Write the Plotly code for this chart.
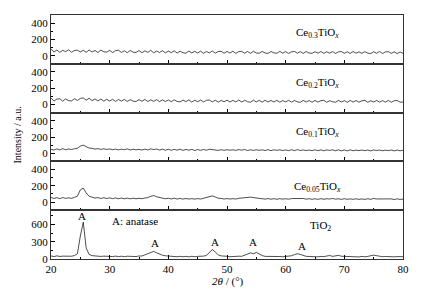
import numpy as np
import plotly.graph_objects as go
from plotly.subplots import make_subplots

two_theta = np.arange(20, 80.01, 0.5)

ce03 = [85, 45, 70, 40, 66, 50, 72, 42, 63, 68,
        46, 66, 41, 70, 45, 64, 39, 68, 48, 43,
        65, 38, 62, 67, 40, 60, 36, 64, 42, 40,
        63, 37, 59, 41, 65, 36, 57, 39, 61, 34,
        56, 37, 60, 32, 55, 36, 30, 57, 35, 53,
        33, 55, 29, 52, 34, 57, 31, 51, 54, 30,
        52, 32, 55, 28, 50, 53, 31, 51, 29, 54,
        33, 30, 52, 32, 28, 51, 34, 29, 53, 31,
        50, 27, 48, 52, 30, 49, 28, 51, 32, 29,
        49, 30, 52, 28, 48, 31, 51, 27, 47, 50,
        29, 48, 27, 51, 30, 47, 28, 49, 31, 26,
        48, 29, 52, 27, 46, 49, 28, 47, 26, 45,
        29]

ce02 = [80, 42, 66, 70, 41, 68, 47, 44, 71, 49,
        74, 80, 53, 76, 47, 68, 44, 66, 41, 63,
        42, 64, 38, 61, 41, 62, 37, 59, 40, 36,
        60, 39, 62, 36, 57, 38, 59, 35, 56, 37,
        55, 34, 57, 37, 32, 54, 35, 56, 30, 52,
        34, 54, 31, 51, 55, 32, 52, 29, 50, 33,
        53, 30, 50, 32, 54, 31, 51, 34, 28, 52,
        32, 50, 29, 52, 31, 49, 30, 51, 28, 48,
        31, 51, 29, 49, 32, 27, 50, 30, 48, 28,
        49, 29, 47, 51, 27, 46, 33, 28, 50, 30,
        47, 27, 49, 30, 48, 28, 46, 50, 27, 47,
        30, 49, 28, 47, 29, 50, 27, 46, 48, 28,
        30]

ce01 = [48, 40, 54, 42, 56, 43, 53, 47, 55, 62,
        88, 100, 82, 64, 60, 51, 57, 48, 55, 47,
        53, 44, 51, 42, 50, 43, 54, 40, 50, 42,
        49, 39, 51, 40, 54, 46, 52, 39, 50, 37,
        49, 36, 48, 38, 50, 35, 47, 37, 48, 34,
        46, 36, 47, 37, 50, 44, 47, 35, 44, 36,
        44, 37, 43, 35, 46, 38, 47, 34, 43, 35,
        43, 36, 42, 34, 45, 32, 43, 36, 42, 34,
        41, 33, 44, 32, 45, 34, 41, 33, 40, 32,
        43, 31, 42, 31, 41, 35, 43, 31, 43, 30,
        41, 30, 42, 31, 39, 33, 40, 32, 40, 29,
        41, 35, 39, 31, 38, 33, 40, 29, 40, 30,
        38]

ce005 = [56, 44, 54, 42, 55, 45, 52, 46, 58, 72,
         150, 172, 112, 72, 60, 49, 55, 44, 54, 43,
         52, 42, 51, 41, 50, 40, 49, 39, 48, 40,
         47, 41, 50, 55, 70, 80, 66, 53, 48, 41,
         47, 38, 47, 37, 45, 36, 44, 37, 42, 36,
         43, 37, 46, 50, 64, 76, 62, 47, 45, 37,
         43, 37, 42, 37, 46, 50, 57, 58, 61, 55,
         51, 44, 43, 36, 43, 35, 42, 34, 42, 36,
         41, 35, 43, 44, 50, 46, 44, 36, 41, 34,
         41, 33, 42, 34, 41, 37, 44, 36, 40, 33,
         41, 34, 39, 34, 40, 33, 39, 33, 41, 34,
         44, 38, 39, 34, 38, 34, 39, 31, 40, 32,
         36]

tio2 = [54, 42, 55, 44, 50, 46, 52, 48, 60, 90,
        400, 640, 190, 80, 58, 50, 54, 45, 50, 44,
        49, 43, 50, 42, 48, 41, 49, 43, 48, 42,
        53, 52, 72, 95, 115, 132, 108, 82, 66, 56,
        52, 42, 48, 39, 47, 38, 46, 37, 47, 39,
        46, 42, 50, 62, 112, 165, 122, 72, 54, 44,
        47, 39, 46, 41, 49, 47, 60, 85, 108, 92,
        115, 82, 60, 46, 47, 40, 44, 40, 43, 39,
        46, 42, 56, 76, 92, 80, 62, 46, 44, 40,
        44, 38, 45, 41, 52, 61, 46, 55, 63, 48,
        46, 38, 45, 37, 44, 36, 45, 38, 46, 56,
        68, 58, 48, 40, 43, 39, 42, 38, 42, 37,
        40]

series = [ce03, ce02, ce01, ce005, tio2]
sample_labels = ["Ce<sub>0.3</sub>TiO<sub><i>x</i></sub>",
                 "Ce<sub>0.2</sub>TiO<sub><i>x</i></sub>",
                 "Ce<sub>0.1</sub>TiO<sub><i>x</i></sub>",
                 "Ce<sub>0.05</sub>TiO<sub><i>x</i></sub>",
                 "TiO<sub>2</sub>"]
label_x = [65.5, 65.5, 65.5, 65.5, 65.9]
label_y = [275, 265, 265, 185, 570]

peak_x = [25.3, 37.7, 47.9, 54.4, 62.8]
peak_label_y = [750, 275, 300, 300, 230]

FONT = "Liberation Serif"

fig = make_subplots(rows=5, cols=1, shared_xaxes=True, vertical_spacing=0)

for i, s in enumerate(series):
    fig.add_trace(go.Scatter(x=two_theta, y=s, mode="lines",
                             line=dict(color="black", width=0.7),
                             showlegend=False), row=i + 1, col=1)

for i in range(5):
    fig.update_xaxes(range=[20, 80], dtick=10, ticks="inside", ticklen=4,
                     tickcolor="black", showline=True, linecolor="#333",
                     linewidth=1, mirror=True, showgrid=False, zeroline=False,
                     automargin=False,
                     minor=dict(ticks="inside", ticklen=2, dtick=5, tick0=20,
                                tickcolor="black"),
                     tickfont=dict(family=FONT, size=11, color="black"),
                     row=i + 1, col=1)
    if i < 4:
        fig.update_yaxes(range=[-100, 500], tickvals=[0, 200, 400],
                         minor=dict(ticks="inside", ticklen=2,
                                    tickvals=[100, 300], tickcolor="black"),
                         row=i + 1, col=1)
    else:
        fig.update_yaxes(range=[0, 850], tickvals=[0, 300, 600],
                         minor=dict(ticks="inside", ticklen=2,
                                    tickvals=[150, 450, 750], tickcolor="black"),
                         row=i + 1, col=1)
    fig.update_yaxes(ticks="inside", ticklen=4, tickcolor="black",
                     showline=True, linecolor="#333", linewidth=1, mirror=True,
                     showgrid=False, zeroline=False, automargin=False,
                     tickfont=dict(family=FONT, size=11, color="black"),
                     row=i + 1, col=1)

annotations = []
for i in range(5):
    ax = "" if i == 0 else str(i + 1)
    annotations.append(dict(x=label_x[i], y=label_y[i], xref="x" + ax, yref="y" + ax,
                            text=sample_labels[i], showarrow=False,
                            font=dict(family=FONT, size=11, color="black")))
for px, py in zip(peak_x, peak_label_y):
    annotations.append(dict(x=px, y=py, xref="x5", yref="y5", text="A",
                            showarrow=False,
                            font=dict(family=FONT, size=11, color="black")))
annotations.append(dict(x=34.3, y=658, xref="x5", yref="y5", text="A: anatase",
                        showarrow=False,
                        font=dict(family=FONT, size=11, color="black")))
annotations.append(dict(x=-0.094, y=0.51, xref="paper", yref="paper",
                        xanchor="center", yanchor="middle",
                        text="Intensity / a.u.", textangle=-90, showarrow=False,
                        font=dict(family=FONT, size=10, color="black")))
annotations.append(dict(x=0.503, y=-0.094, xref="paper", yref="paper",
                        xanchor="center", yanchor="middle",
                        text="<i>2θ</i> / (°)", showarrow=False,
                        font=dict(family=FONT, size=11, color="black")))

# page body has an 8px default margin, so the figure is sized to fit inside it
fig.update_layout(width=421, height=285, template="none",
                  margin=dict(l=43, r=26, t=7, b=34),
                  paper_bgcolor="white", plot_bgcolor="white",
                  annotations=annotations)

fig.write_html("out.html")
